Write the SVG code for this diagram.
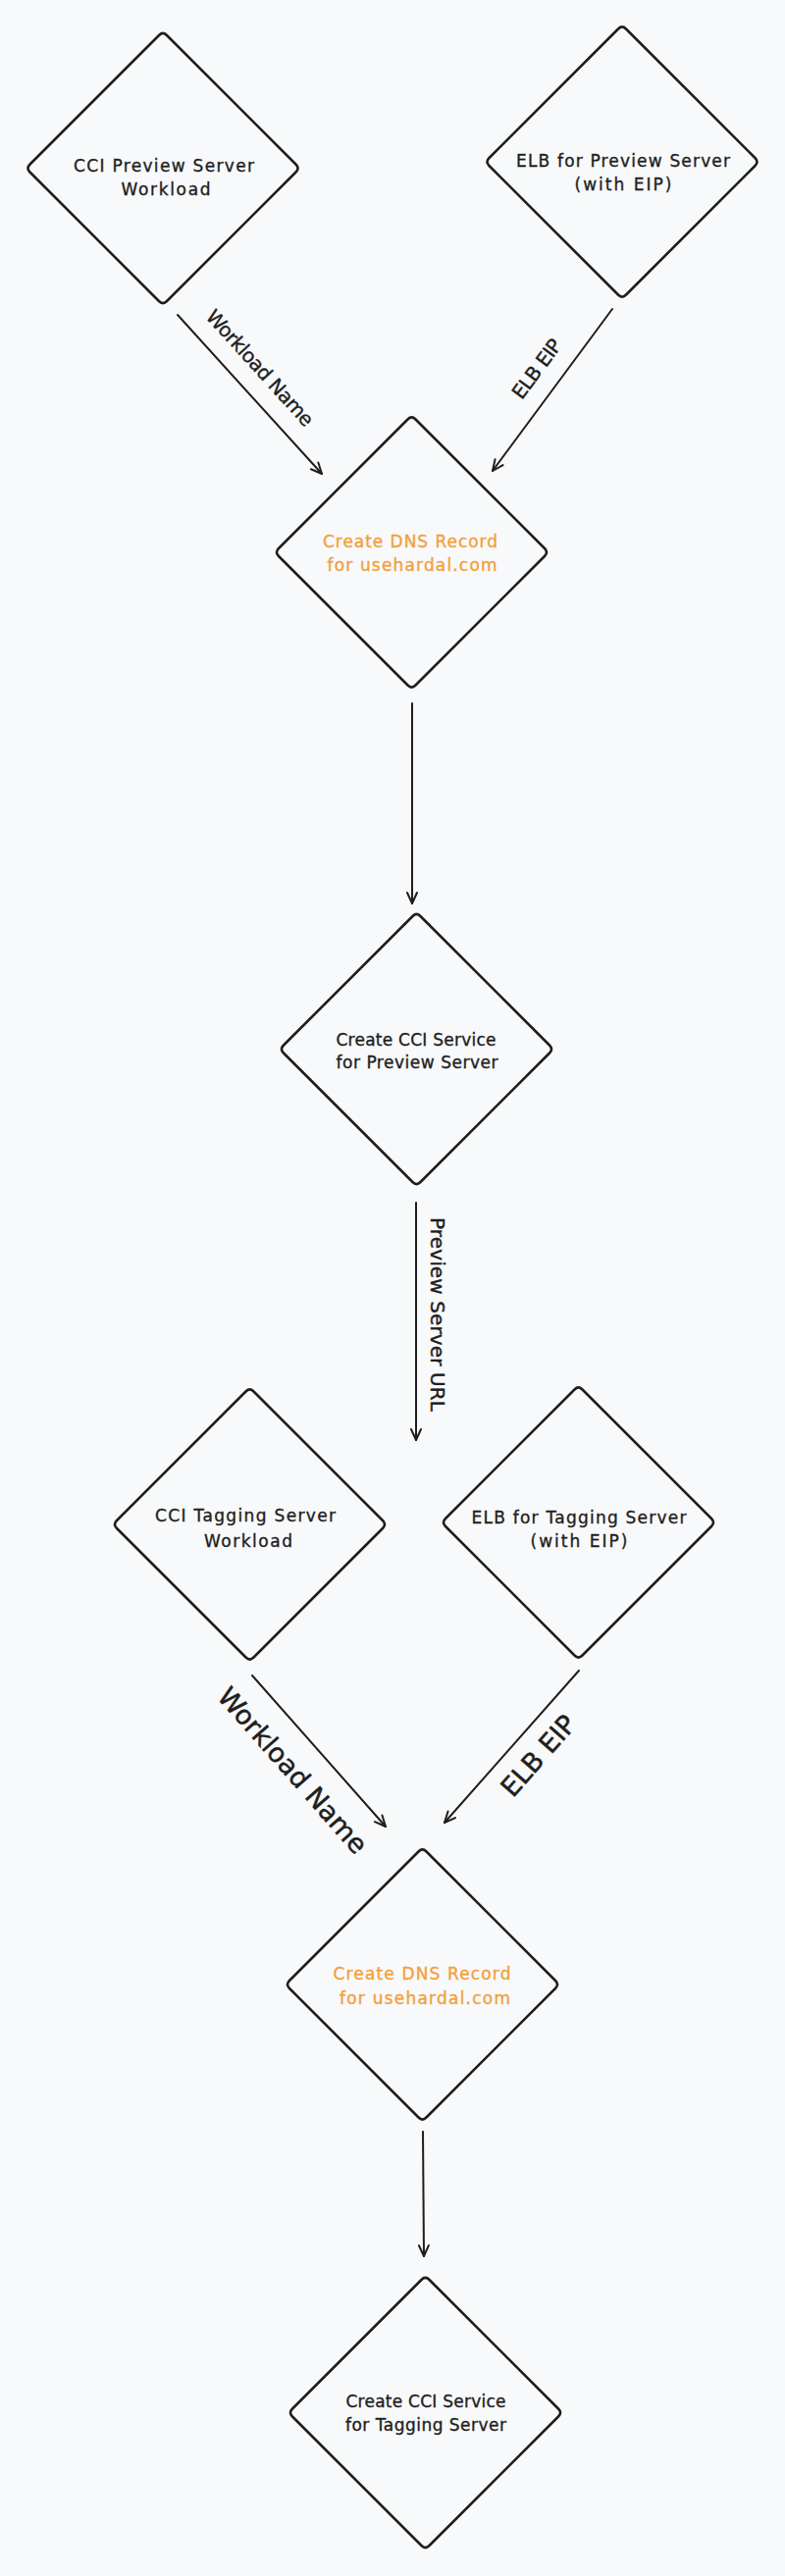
<svg xmlns="http://www.w3.org/2000/svg" width="800" height="2626" viewBox="0 0 800 2626">
<style>
.bg{fill:#f8f9fa}
.dm{fill:none;stroke:#1e1e1e;stroke-width:2.6;stroke-linejoin:round}
.t{font-family:"DejaVu Sans","Liberation Sans",sans-serif;font-size:17px;fill:#1e1e1e;stroke:#1e1e1e;stroke-width:0.35;text-anchor:middle}
.o{fill:#f2a03c;stroke:#f2a03c}
.e{fill:none;stroke:#1e1e1e;stroke-width:2;stroke-linecap:round}
.l{font-family:"DejaVu Sans","Liberation Sans",sans-serif;font-size:20px;fill:#1e1e1e;stroke:#1e1e1e;stroke-width:0.4;text-anchor:middle}
.lb{font-size:27px;stroke-width:0.5}
</style>
<defs>
<path id="dm" class="dm" d="M -4,-135.5 Q 0,-139.5 4,-135.5 L 135.5,-4 Q 139.5,0 135.5,4 L 4,135.5 Q 0,139.5 -4,135.5 L -135.5,4 Q -139.5,0 -135.5,-4 Z"/>
<marker id="ah" markerUnits="userSpaceOnUse" markerWidth="16" markerHeight="14" refX="13" refY="7" orient="auto">
<path d="M2,2 L13,7 L2,12" fill="none" stroke="#1e1e1e" stroke-width="2" stroke-linecap="round" stroke-linejoin="round"/>
</marker>
</defs>
<rect class="bg" x="0" y="0" width="800" height="2626"/>

<g id="connectors">
<line class="e" x1="181" y1="321" x2="328" y2="483" marker-end="url(#ah)"/>
<line class="e" x1="624" y1="315" x2="502" y2="480" marker-end="url(#ah)"/>
<line class="e" x1="420" y1="717" x2="420" y2="921" marker-end="url(#ah)"/>
<line class="e" x1="424" y1="1226" x2="424" y2="1468" marker-end="url(#ah)"/>
<line class="e" x1="257" y1="1708" x2="393" y2="1862" marker-end="url(#ah)"/>
<line class="e" x1="590" y1="1703" x2="453" y2="1858" marker-end="url(#ah)"/>
<line class="e" x1="431" y1="2173" x2="432" y2="2300" marker-end="url(#ah)"/>
<text class="l" transform="translate(265,375) rotate(47.8)" x="0" y="7" textLength="152">Workload Name</text>
<text class="l" transform="translate(547,376) rotate(-53.5)" x="0" y="7" textLength="70">ELB EIP</text>
<text class="l" transform="translate(446,1340) rotate(90)" x="0" y="7" textLength="198">Preview Server URL</text>
<text class="l lb" transform="translate(298,1805) rotate(48.7)" x="0" y="9" textLength="215">Workload Name</text>
<text class="l lb" transform="translate(549,1790) rotate(-48.6)" x="0" y="9" textLength="100">ELB EIP</text>
</g>

<g id="n1">
<use href="#dm" x="166" y="171.5"/>
<text class="t" x="167" y="175" textLength="184">CCI Preview Server</text>
<text class="t" x="169" y="199" textLength="91">Workload</text>
</g>
<g id="n2">
<use href="#dm" x="634" y="165"/>
<text class="t" x="635" y="170" textLength="218">ELB for Preview Server</text>
<text class="t" x="635" y="194" textLength="99">(with EIP)</text>
</g>
<g id="n3">
<use href="#dm" x="419.5" y="563"/>
<text class="t o" x="418" y="558" textLength="178">Create DNS Record</text>
<text class="t o" x="420" y="582" textLength="173">for usehardal.com</text>
</g>
<g id="n4">
<use href="#dm" x="424.5" y="1069.5"/>
<text class="t" x="424" y="1066" textLength="163">Create CCI Service</text>
<text class="t" x="425" y="1089" textLength="165">for Preview Server</text>
</g>
<g id="n5">
<use href="#dm" x="254.5" y="1554"/>
<text class="t" x="250" y="1551" textLength="184">CCI Tagging Server</text>
<text class="t" x="253" y="1577" textLength="90">Workload</text>
</g>
<g id="n6">
<use href="#dm" x="589.5" y="1552"/>
<text class="t" x="590" y="1553" textLength="219">ELB for Tagging Server</text>
<text class="t" x="590" y="1577" textLength="99">(with EIP)</text>
</g>
<g id="n7">
<use href="#dm" x="430.5" y="2023"/>
<text class="t o" x="430" y="2018" textLength="181">Create DNS Record</text>
<text class="t o" x="433" y="2043" textLength="174">for usehardal.com</text>
</g>
<g id="n8">
<use href="#dm" x="433.5" y="2459.5"/>
<text class="t" x="434" y="2454" textLength="163">Create CCI Service</text>
<text class="t" x="434" y="2478" textLength="164">for Tagging Server</text>
</g>
</svg>
